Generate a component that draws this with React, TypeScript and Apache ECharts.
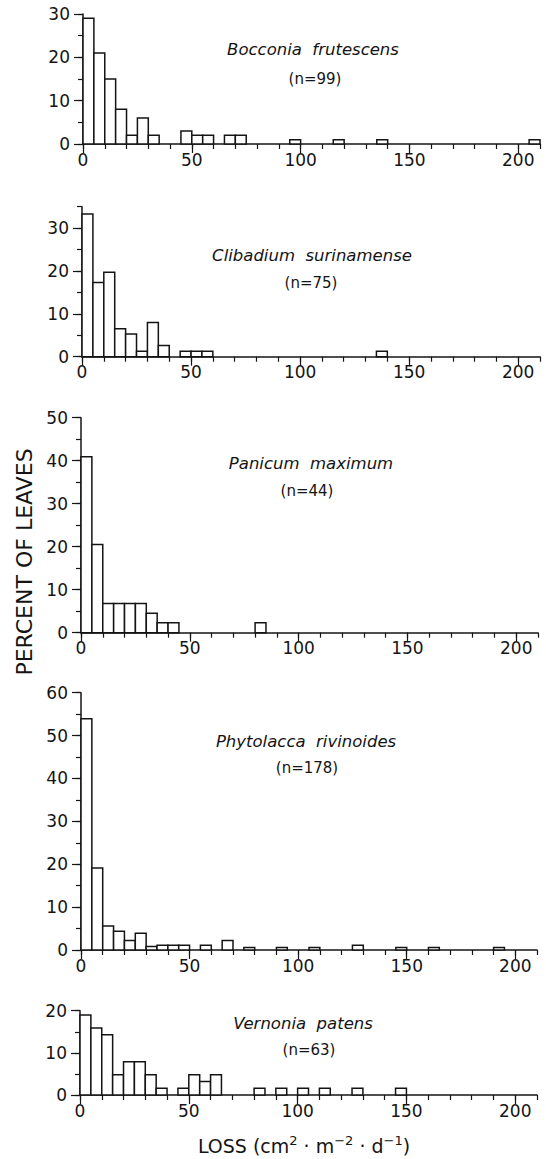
import React, { useEffect, useRef } from "react";
import * as echarts from "echarts";

const binWidth = 5;
const xTickLabels = [0, 50, 100, 150, 200];

const speciesNames = [
  "Bocconia  frutescens",
  "Clibadium  surinamense",
  "Panicum  maximum",
  "Phytolacca  rivinoides",
  "Vernonia  patens",
];
const sampleSizes = ["(n=99)", "(n=75)", "(n=44)", "(n=178)", "(n=63)"];
const yMaxes = [30, 35, 50, 60, 20];

const bocconiaStarts = [0, 5, 10, 15, 20, 25, 30, 45, 50, 55, 65, 70, 95, 115, 135, 205];
const bocconiaPct = [29, 21, 15, 8, 2, 6, 2, 3, 2, 2, 2, 2, 1, 1, 1, 1];

const clibadiumStarts = [0, 5, 10, 15, 20, 25, 30, 35, 45, 50, 55, 135];
const clibadiumPct = [33.3, 17.3, 19.7, 6.5, 5.3, 1.3, 8, 2.6, 1.3, 1.3, 1.3, 1.3];

const panicumStarts = [0, 5, 10, 15, 20, 25, 30, 35, 40, 80];
const panicumPct = [40.9, 20.5, 6.8, 6.8, 6.8, 6.8, 4.5, 2.3, 2.3, 2.3];

const phytolaccaStarts = [0, 5, 10, 15, 20, 25, 30, 35, 40, 45, 55, 65, 75, 90, 105, 125, 145, 160, 190];
const phytolaccaPct = [53.9, 19.1, 5.6, 4.4, 2.2, 3.9, 0.8, 1.1, 1.1, 1.1, 1.1, 2.2, 0.6, 0.6, 0.6, 1.1, 0.6, 0.6, 0.6];

const vernoniaStarts = [0, 5, 10, 15, 20, 25, 30, 35, 45, 50, 55, 60, 80, 90, 100, 110, 125, 145];
const vernoniaPct = [19, 15.9, 14.3, 4.8, 7.9, 7.9, 4.8, 1.6, 1.6, 4.8, 3.2, 4.8, 1.6, 1.6, 1.6, 1.6, 1.6, 1.6];

const allStarts = [bocconiaStarts, clibadiumStarts, panicumStarts, phytolaccaStarts, vernoniaStarts];
const allPct = [bocconiaPct, clibadiumPct, panicumPct, phytolaccaPct, vernoniaPct];

// layout (pixels)
const grids = [
  { left: 83, right: 6, top: 14, height: 130 },
  { left: 82, right: 6, top: 206.7, height: 150 },
  { left: 81, right: 8, top: 417.7, height: 215 },
  { left: 81, right: 9, top: 692.7, height: 257.3 },
  { left: 80, right: 9, top: 1010.7, height: 84.3 },
];
const titlePos = [
  { x: 313, y: 49, ny: 79, nx: 315 },
  { x: 312, y: 255, ny: 283, nx: 311 },
  { x: 311, y: 463, ny: 491, nx: 307 },
  { x: 306, y: 741, ny: 768, nx: 307 },
  { x: 303, y: 1023, ny: 1050, nx: 309 },
];

const INK = "#141414";
const FONT = "DejaVu Sans";

export default function App() {
  const ref = useRef<HTMLDivElement>(null);
  useEffect(() => {
    if (!ref.current) return;
    const chart = echarts.init(ref.current, undefined, { renderer: "svg" });
    const xAxis: any[] = [];
    const yAxis: any[] = [];
    const series: any[] = [];
    const graphic: any[] = [];
    grids.forEach((g, i) => {
      const yMax = yMaxes[i];
      const yMajor: number[] = [];
      for (let v = 0; v <= yMax; v += 10) yMajor.push(v);
      xAxis.push({
        type: "value",
        gridIndex: i,
        min: 0,
        max: 210,
        interval: 10,
        axisLine: { show: true, onZero: false, lineStyle: { color: INK, width: 1.5 } },
        axisTick: { show: true, length: 5, lineStyle: { color: INK, width: 1.2 } },
        axisLabel: {
          show: true,
          margin: 7,
          color: INK,
          fontFamily: FONT,
          fontSize: 17,
          formatter: (v: number) => (xTickLabels.indexOf(v) >= 0 ? String(v) : ""),
        },
        splitLine: { show: false },
      });
      xAxis.push({
        type: "value",
        gridIndex: i,
        min: 0,
        max: 210,
        position: "bottom",
        axisLine: { show: false },
        axisTick: { show: true, length: 9, customValues: xTickLabels, lineStyle: { color: INK, width: 1.2 } },
        axisLabel: { show: false },
        splitLine: { show: false },
      });
      yAxis.push({
        type: "value",
        gridIndex: i,
        min: 0,
        max: yMax,
        interval: 5,
        axisLine: { show: true, onZero: false, lineStyle: { color: INK, width: 1.5 } },
        axisTick: { show: true, length: 5, lineStyle: { color: INK, width: 1.2 } },
        axisLabel: {
          show: true,
          margin: 13,
          color: INK,
          fontFamily: FONT,
          fontSize: 17,
          formatter: (v: number) => (v % 10 === 0 ? String(v) : ""),
        },
        splitLine: { show: false },
      });
      yAxis.push({
        type: "value",
        gridIndex: i,
        min: 0,
        max: yMax,
        position: "left",
        axisLine: { show: false },
        axisTick: { show: true, length: 9, customValues: yMajor, lineStyle: { color: INK, width: 1.2 } },
        axisLabel: { show: false },
        splitLine: { show: false },
      });
      const data = allStarts[i].map((s, k) => [s, allPct[i][k]]);
      series.push({
        type: "custom",
        xAxisIndex: 2 * i,
        yAxisIndex: 2 * i,
        encode: { x: 0, y: 1 },
        data,
        renderItem: (_p: any, api: any) => {
          const x0 = api.value(0);
          const y = api.value(1);
          const a = api.coord([x0, y]);
          const b = api.coord([x0 + binWidth, 0]);
          return {
            type: "rect",
            shape: { x: a[0], y: a[1], width: b[0] - a[0], height: b[1] - a[1] },
            style: { fill: "#fff", stroke: INK, lineWidth: 1.5 },
          };
        },
      });
      const tp = titlePos[i];
      graphic.push({
        type: "text",
        x: tp.x,
        y: tp.y,
        style: {
          text: speciesNames[i],
          fill: INK,
          font: `italic 16.5px "${FONT}"`,
          textAlign: "center",
          textVerticalAlign: "middle",
        },
      });
      graphic.push({
        type: "text",
        x: tp.nx,
        y: tp.ny,
        style: {
          text: sampleSizes[i],
          fill: INK,
          font: `15px "${FONT}"`,
          textAlign: "center",
          textVerticalAlign: "middle",
        },
      });
    });
    graphic.push({
      type: "text",
      x: 24,
      y: 562,
      rotation: Math.PI / 2,
      style: {
        text: "PERCENT OF LEAVES",
        fill: INK,
        font: `22px "${FONT}"`,
        textAlign: "center",
        textVerticalAlign: "middle",
      },
    });
    graphic.push({
      type: "text",
      x: 304,
      y: 1146,
      style: {
        text: "LOSS (cm{s|2} · m{s|−2} · d{s|−1})",
        fill: INK,
        font: `19px "${FONT}"`,
        fontFamily: FONT,
        fontSize: 19,
        textAlign: "center",
        textVerticalAlign: "middle",
        rich: {
          s: {
            fontFamily: FONT,
            fontSize: 13,
            fill: INK,
            verticalAlign: "top",
            lineHeight: 24,
          },
        },
      },
    });
    chart.setOption({
      animation: false,
      backgroundColor: "#fff",
      grid: grids.map((g) => ({ ...g, containLabel: false })),
      xAxis,
      yAxis,
      series,
      graphic,
    });
    return () => chart.dispose();
  }, []);
  return (
    <div
      ref={ref}
      style={{ position: "absolute", left: 0, top: 0, width: 546, height: 1159, background: "#fff" }}
    />
  );
}
